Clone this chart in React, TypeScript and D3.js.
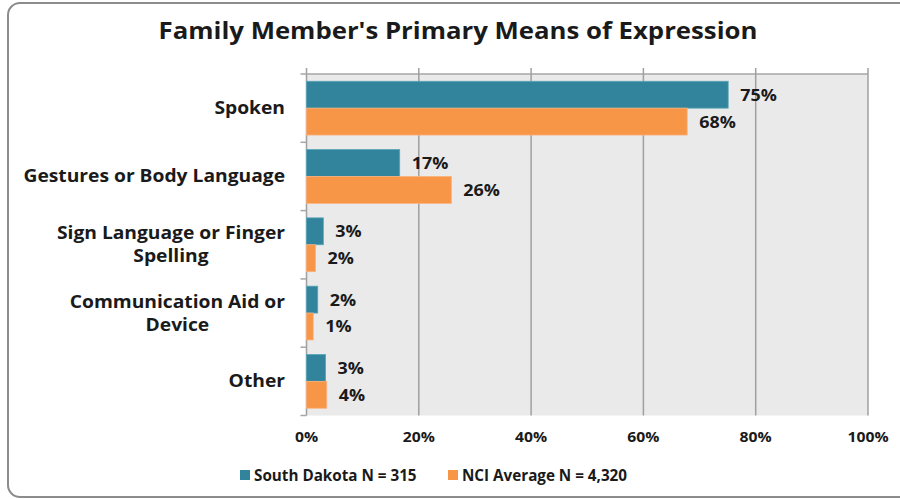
import React from "react";
import * as d3 from "d3";

const categories: string[][] = [
  ["Spoken"],
  ["Gestures or Body Language"],
  ["Sign Language or Finger", "Spelling"],
  ["Communication Aid or", "Device"],
  ["Other"],
];
const southDakota = [75.1, 16.6, 3.0, 2.0, 3.4];
const nciAverage = [67.8, 25.8, 1.6, 1.2, 3.6];
const xTicks = [0, 20, 40, 60, 80, 100];
const seriesNames = ["South Dakota N = 315", "NCI Average N = 4,320"];
const colors = ["#31849B", "#F79646"];

const W = 900;
const H = 499;
const FONT = "'Open Sans', Lato, sans-serif";

function SText({
  x,
  y,
  sx = 1,
  anchor = "start",
  size,
  children,
}: {
  x: number;
  y: number;
  sx?: number;
  anchor?: string;
  size: number;
  children: React.ReactNode;
}) {
  return (
    <text
      transform={`translate(${x},${y}) scale(${sx},1)`}
      textAnchor={anchor}
      fontSize={size}
      fontWeight="bold"
      fill="#1a1a1a"
    >
      {children}
    </text>
  );
}

export default function App() {
  const x = d3.scaleLinear().domain([0, 100]).range([306.5, 868]);
  const y = d3
    .scaleBand<number>()
    .domain(categories.map((_, i) => i))
    .range([74, 415.5])
    .paddingInner(0)
    .paddingOuter(0);
  const bw = y.bandwidth();
  const inner = d3
    .scaleBand<number>()
    .domain([0, 1])
    .range([0, bw])
    .paddingOuter(0.27)
    .paddingInner(0);
  const series = [southDakota, nciAverage];
  const top = y.range()[0];
  const bottom = y.range()[1];

  return (
    <svg
      width={W}
      height={H}
      style={{ position: "absolute", left: 0, top: 0, display: "block" }}
      fontFamily={FONT}
    >
      <rect x={0} y={0} width={W} height={H} fill="#fff" />
      <rect
        x={8}
        y={3}
        width={W + 10}
        height={H - 5}
        rx={12}
        fill="#fff"
        stroke="#8c8c8c"
        strokeWidth={2}
      />
      <SText x={458} y={39} anchor="middle" size={22.5} sx={1.145}>
        Family Member's Primary Means of Expression
      </SText>

      <rect x={x(0)} y={top} width={x(100) - x(0)} height={bottom - top} fill="#EAEAEA" />
      <line x1={x(0)} x2={x(100)} y1={top} y2={top} stroke="#a6a6a6" strokeWidth={1.5} />
      {xTicks.map((t) => (
        <line
          key={t}
          x1={x(t)}
          x2={x(t)}
          y1={top - 6}
          y2={bottom}
          stroke="#a0a0a0"
          strokeWidth={1.5}
        />
      ))}
      {d3.range(categories.length + 1).map((i) => {
        const yy = top + i * bw;
        return (
          <line key={i} x1={x(0) - 6} x2={x(0)} y1={yy} y2={yy} stroke="#a6a6a6" strokeWidth={1.5} />
        );
      })}

      {series.map((vals, s) =>
        vals.map((v, i) => {
          const by = (y(i) as number) + (inner(s) as number);
          const bh = inner.bandwidth();
          return (
            <g key={`${s}-${i}`}>
              <rect
                x={x(0)}
                y={by}
                width={x(v) - x(0)}
                height={bh}
                fill={colors[s]}
                stroke={s === 0 ? "#5aa5b8" : "#fab27e"}
                strokeWidth={0.8}
              />
              <SText x={x(v) + 12} y={by + bh / 2 + 6} size={16} sx={1.12}>
                {Math.round(v)}%
              </SText>
            </g>
          );
        })
      )}

      {categories.map((lines, i) => {
        const cy = (y(i) as number) + bw / 2;
        return <CatLabel key={i} lines={lines} cy={cy} lh={23} right={285} />;
      })}

      {xTicks.map((t) => (
        <SText key={t} x={x(t)} y={442} anchor="middle" size={15} sx={1.05}>
          {t}%
        </SText>
      ))}

      {seriesNames.map((n, s) => {
        const lx = s === 0 ? 240 : 448;
        return (
          <g key={n}>
            <rect x={lx} y={470} width={10} height={10} fill={colors[s]} />
            <SText x={lx + 14} y={481} size={16} sx={0.952}>
              {n}
            </SText>
          </g>
        );
      })}
    </svg>
  );
}

function CatLabel({
  lines,
  cy,
  lh,
  right,
}: {
  lines: string[];
  cy: number;
  lh: number;
  right: number;
}) {
  const ref = React.useRef<SVGGElement>(null);
  const [w, setW] = React.useState(0);
  const sx = 1.1;
  React.useLayoutEffect(() => {
    if (ref.current) {
      const texts = Array.from(ref.current.querySelectorAll("text"));
      const m = Math.max(...texts.map((t) => (t as SVGTextElement).getComputedTextLength()));
      setW(m * sx);
    }
  }, [lines]);
  const cx = right - w / 2;
  const y0 = cy - ((lines.length - 1) * lh) / 2 + 6;
  return (
    <g ref={ref}>
      {lines.map((l, k) => (
        <SText key={k} x={w ? cx : right} y={y0 + k * lh} anchor={w ? "middle" : "end"} size={17.5} sx={sx}>
          {l}
        </SText>
      ))}
    </g>
  );
}
